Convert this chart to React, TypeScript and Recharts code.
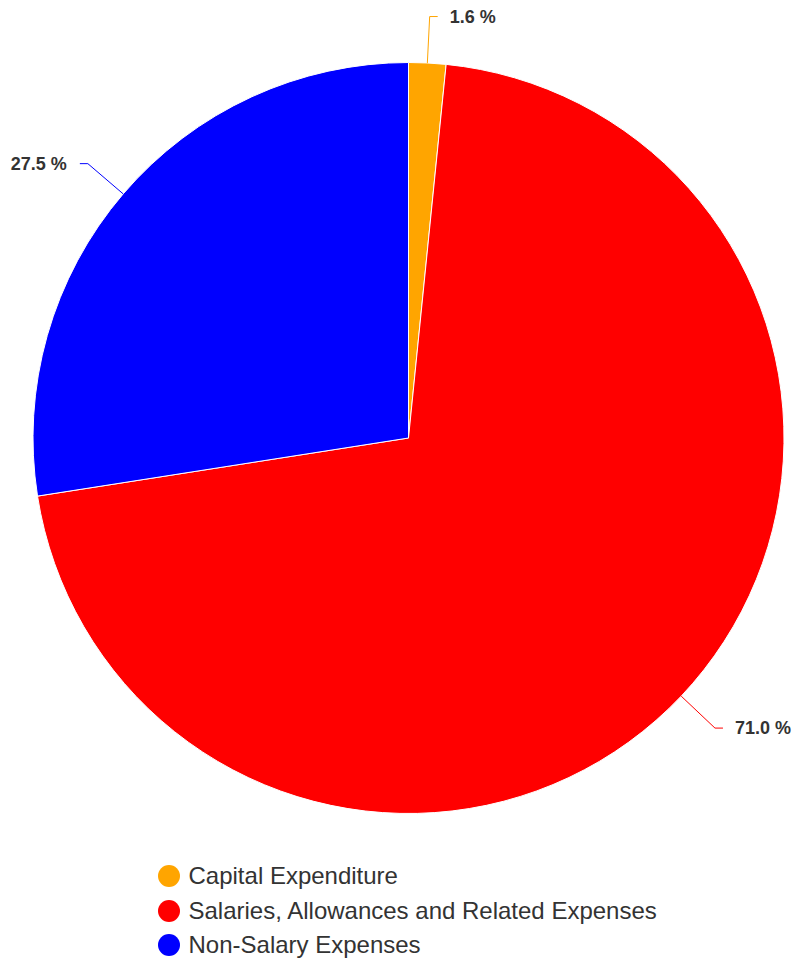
import React from 'react';
import { PieChart, Pie, Cell, Legend } from 'recharts';

const categories = [
  'Capital Expenditure',
  'Salaries, Allowances and Related Expenses',
  'Non-Salary Expenses',
];
const shares = [1.6, 71.0, 27.5];
const colors = ['#FFA500', '#FF0000', '#0000FF'];

const data = categories.map((name, i) => ({ name, value: shares[i] }));

const RAD = Math.PI / 180;
const FONT = '"Liberation Sans", Arial, Helvetica, sans-serif';

// connector: radial out of the slice, then a short horizontal tail, then the text
const renderLabel = (props: any) => {
  const { cx, cy, midAngle, outerRadius, value, index } = props;
  const color = colors[index];
  const cos = Math.cos(-midAngle * RAD);
  const sin = Math.sin(-midAngle * RAD);
  const sx = cx + outerRadius * cos;
  const sy = cy + outerRadius * sin;
  const bx = cx + (outerRadius + 46.5) * cos;
  const by = cy + (outerRadius + 46.5) * sin;
  const right = cos >= 0;
  const ex = bx + (right ? 8 : -8);
  const tx = ex + (right ? 12 : -13);
  return (
    <g>
      <path
        d={`M${sx},${sy}L${bx},${by}L${ex},${by}`}
        stroke={color}
        strokeWidth={1}
        fill="none"
      />
      <text
        x={tx}
        y={by}
        dy="0.35em"
        textAnchor={right ? 'start' : 'end'}
        fill="#333333"
        fontSize={18}
        fontWeight="bold"
        fontFamily={FONT}
      >
        {`${Number(value).toFixed(1)} %`}
      </text>
    </g>
  );
};

const renderLegend = () => (
  <div style={{ fontFamily: FONT }}>
    {categories.map((name, i) => (
      <div
        key={name}
        style={{ display: 'flex', alignItems: 'center', height: 34.5 }}
      >
        <span
          style={{
            display: 'inline-block',
            flex: 'none',
            width: 22,
            height: 22,
            borderRadius: '50%',
            background: colors[i],
            marginRight: 9,
          }}
        />
        <span style={{ fontSize: 24, color: '#333333', lineHeight: '34.5px', whiteSpace: 'nowrap' }}>
          {name}
        </span>
      </div>
    ))}
  </div>
);

export default function App() {
  return (
    <div style={{ position: 'absolute', left: 0, top: 0, width: 797, height: 964, background: '#fff' }}>
      <PieChart width={797} height={964} margin={{ top: 0, right: 0, bottom: 0, left: 0 }}>
        <Pie
          data={data}
          dataKey="value"
          nameKey="name"
          cx={408.5}
          cy={438}
          outerRadius={375.5}
          startAngle={90}
          endAngle={-270}
          stroke="#ffffff"
          strokeWidth={1}
          label={renderLabel}
          labelLine={false}
          isAnimationActive={false}
        >
          {data.map((d, i) => (
            <Cell key={d.name} fill={colors[i]} />
          ))}
        </Pie>
        <Legend
          content={renderLegend}
          wrapperStyle={{ position: 'absolute', left: 157.5, top: 859, width: 620, bottom: 'auto' }}
        />
      </PieChart>
    </div>
  );
}
